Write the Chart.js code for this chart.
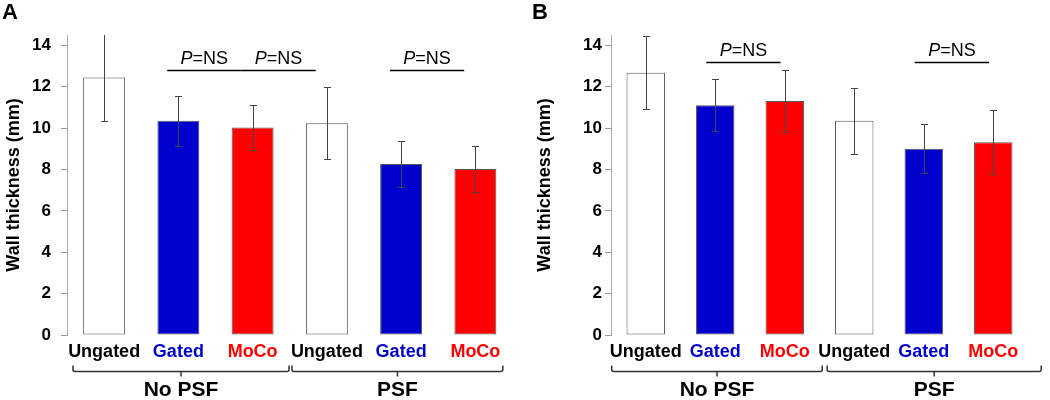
<!DOCTYPE html>
<html>
<head>
<meta charset="utf-8">
<script src="https://cdn.jsdelivr.net/npm/chart.js@4.4.1/dist/chart.umd.min.js"></script>
<style>
  body { margin: 0; background: #fff; }
  .panel { position: absolute; top: 0; width: 525px; height: 400px; }
</style>
</head>
<body>
<div class="panel" style="left:0"><canvas id="chartA"></canvas></div>
<div class="panel" style="left:525px"><canvas id="chartB"></canvas></div>
<script>
// categories and groups
var categories = ['Ungated', 'Gated', 'MoCo', 'Ungated', 'Gated', 'MoCo'];
var groups = ['No PSF', 'PSF'];
var yTicks = [0, 2, 4, 6, 8, 10, 12, 14];
var pLabel = ['P', '=NS'];

// panel A: wall thickness (mm), mean and SD
var thicknessA = [12.44, 10.35, 10.03, 10.24, 8.27, 8.02];
var sdA = [2.09, 1.20, 1.07, 1.74, 1.10, 1.10];
var pairsA = [[1, 2], [2, 3], [4, 5]];

// panel B
var thicknessB = [12.67, 11.10, 11.31, 10.35, 9.00, 9.32];
var sdB = [1.77, 1.25, 1.49, 1.60, 1.18, 1.55];
var pairsB = [[1, 2], [4, 5]];

var FONT = 'Arial, "Liberation Sans", sans-serif';
var barFills = ['#ffffff', '#0000cc', '#ff0000', '#ffffff', '#0000cc', '#ff0000'];
var labelColors = ['#000000', '#0000cc', '#ff0000', '#000000', '#0000cc', '#ff0000'];

var annotate = {
    id: 'annotate',
    afterDatasetsDraw: function(chart, args, o) {
        var ctx = chart.ctx, ys = chart.scales.y, area = chart.chartArea;
        var meta = chart.getDatasetMeta(0);
        ctx.save();
        ctx.beginPath();
        ctx.rect(area.left, area.top, area.right - area.left, area.bottom - area.top);
        ctx.clip();
        ctx.strokeStyle = '#444';
        ctx.lineWidth = 1;
        meta.data.forEach(function(bar, i) {
            var v = o.values[i], e = o.errors[i];
            var x = Math.round(bar.x) + 0.5;
            var hi = Math.round(ys.getPixelForValue(v + e)) + 0.5;
            var lo = Math.round(ys.getPixelForValue(v - e)) + 0.5;
            ctx.beginPath();
            ctx.moveTo(x, hi); ctx.lineTo(x, lo);
            ctx.moveTo(x - 3.5, hi); ctx.lineTo(x + 3.5, hi);
            ctx.moveTo(x - 3.5, lo); ctx.lineTo(x + 3.5, lo);
            ctx.stroke();
        });
        ctx.restore();
    },
    afterDraw: function(chart, args, o) {
        var ctx = chart.ctx, xs = chart.scales.x, ys = chart.scales.y;
        var x0 = xs.getPixelForValue(0);
        var cat = xs.getPixelForValue(1) - x0;
        var at = function(pos) { return x0 + pos * cat; };
        ctx.save();

        // P=NS bars
        var ly = Math.round(ys.getPixelForValue(o.level)) + 0.5;
        o.pairs.forEach(function(p) {
            var x1 = at(p[0] + o.pairShift[0]), x2 = at(p[1] + o.pairShift[1]);
            ctx.strokeStyle = '#000';
            ctx.lineWidth = 1.5;
            ctx.beginPath(); ctx.moveTo(x1, ly); ctx.lineTo(x2, ly); ctx.stroke();
            ctx.font = 'italic 18px ' + FONT;
            var w1 = ctx.measureText(pLabel[0]).width;
            ctx.font = '18px ' + FONT;
            var w2 = ctx.measureText(pLabel[1]).width;
            var tx = (x1 + x2) / 2 - (w1 + w2) / 2;
            ctx.fillStyle = '#000';
            ctx.textAlign = 'left';
            ctx.textBaseline = 'alphabetic';
            ctx.font = 'italic 18px ' + FONT;
            ctx.fillText(pLabel[0], tx, ly - 7);
            ctx.font = '18px ' + FONT;
            ctx.fillText(pLabel[1], tx + w1, ly - 7);
        });

        // group braces
        groups.forEach(function(name, g) {
            var l = at(o.braces[g][0]), r = at(o.braces[g][1]), y = o.braceY;
            var mid = (l + r) / 2;
            ctx.strokeStyle = '#333';
            ctx.lineWidth = 1.5;
            ctx.beginPath();
            ctx.moveTo(l, y - 6);
            ctx.lineTo(l, y - 2);
            ctx.quadraticCurveTo(l, y, l + 2, y);
            ctx.lineTo(r - 2, y);
            ctx.quadraticCurveTo(r, y, r, y - 2);
            ctx.lineTo(r, y - 6);
            ctx.moveTo(mid, y);
            ctx.lineTo(mid, y + 5);
            ctx.stroke();
            ctx.fillStyle = '#000';
            ctx.font = 'bold 21px ' + FONT;
            ctx.textAlign = 'center';
            ctx.textBaseline = 'alphabetic';
            ctx.fillText(name, mid, o.groupY);
        });

        // panel letter
        ctx.font = 'bold 22px ' + FONT;
        ctx.textAlign = 'left';
        ctx.fillStyle = '#000';
        ctx.fillText(o.letter, o.letterX, 19);
        ctx.restore();
    }
};

function drawPanel(id, values, errors, pairs, look) {
    var ctx = document.getElementById(id);
    return new Chart(ctx, {
        type: 'bar',
        data: {
            labels: categories,
            datasets: [{
                data: values,
                backgroundColor: barFills,
                borderColor: '#555',
                borderWidth: 1,
                borderSkipped: false,
                barPercentage: look.barPct,
                categoryPercentage: 1
            }]
        },
        options: {
            responsive: true,
            maintainAspectRatio: false,
            animation: false,
            events: [],
            layout: { padding: { left: 0, right: look.padRight, top: 35, bottom: 0 } },
            plugins: {
                legend: { display: false },
                tooltip: { enabled: false },
                annotate: {
                    values: values,
                    errors: errors,
                    pairs: pairs,
                    level: look.level,
                    pairShift: look.pairShift,
                    braces: look.braces,
                    braceY: 371.5,
                    groupY: 396,
                    letter: look.letter,
                    letterX: look.letterX
                }
            },
            scales: {
                x: {
                    grid: { display: false },
                    border: { display: false },
                    ticks: {
                        color: labelColors,
                        font: { family: FONT, size: 18, weight: 'bold' },
                        padding: -2,
                        maxRotation: 0,
                        autoSkip: false
                    },
                    afterFit: function(s) { s.height = 65; }
                },
                y: {
                    min: 0,
                    max: 14.5,
                    afterFit: function(s) { s.width = look.axisWidth; },
                    afterBuildTicks: function(s) {
                        s.ticks = yTicks.map(function(v) { return { value: v }; });
                    },
                    border: { color: '#aaa' },
                    grid: { drawOnChartArea: false, tickLength: 6, color: '#999' },
                    ticks: {
                        padding: look.tickPad,
                        color: '#000',
                        font: { family: FONT, size: 17, weight: 'bold' }
                    },
                    title: {
                        display: true,
                        text: 'Wall thickness (mm)',
                        color: '#000',
                        font: { family: FONT, size: 18, weight: 'bold' },
                        padding: { top: look.titlePad, bottom: 0 }
                    }
                }
            }
        },
        plugins: [annotate]
    });
}

drawPanel('chartA', thicknessA, sdA, pairsA, {
    letter: 'A', letterX: 2, axisWidth: 67, padRight: 12.5, barPct: 0.565,
    tickPad: 10, titlePad: 3, level: 12.8, pairShift: [-0.15, -0.15],
    braces: [[-0.42, 2.49], [2.53, 5.37]]
});

drawPanel('chartB', thicknessB, sdB, pairsB, {
    letter: 'B', letterX: 7, axisWidth: 86, padRight: 22, barPct: 0.553,
    tickPad: 3, titlePad: 9, level: 13.2, pairShift: [-0.13, -0.06],
    braces: [[-0.49, 2.54], [2.61, 5.69]]
});
</script>
</body>
</html>
